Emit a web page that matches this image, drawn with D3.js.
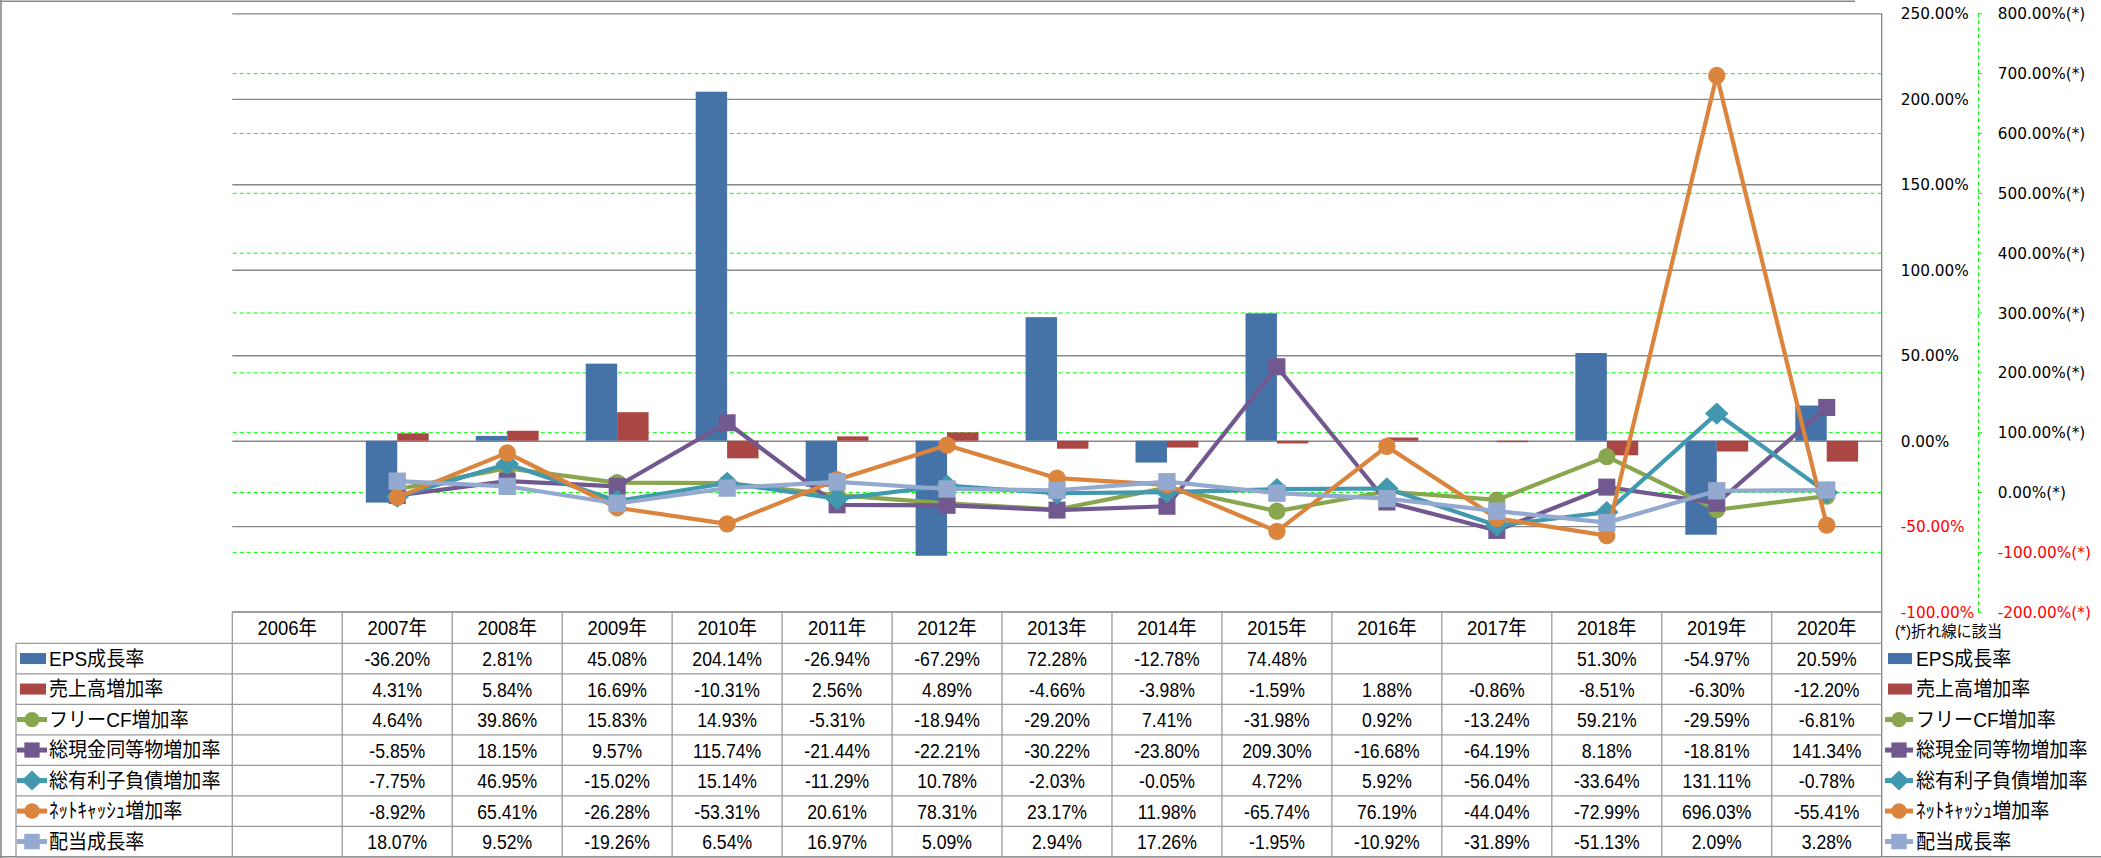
<!DOCTYPE html>
<html><head><meta charset="utf-8">
<script src="https://cdn.jsdelivr.net/npm/d3@7/dist/d3.min.js"></script>
<style>body{margin:0;background:#fff;} svg{display:block;}</style>
</head><body><svg id="c" width="2101" height="858"></svg>
<script>
// ---------- data ----------
const years = ["2006年","2007年","2008年","2009年","2010年","2011年","2012年","2013年","2014年","2015年","2016年","2017年","2018年","2019年","2020年"];
const epsGrowth      = [null,-36.20,2.81,45.08,204.14,-26.94,-67.29,72.28,-12.78,74.48,null,null,51.30,-54.97,20.59];
const salesGrowth    = [null,4.31,5.84,16.69,-10.31,2.56,4.89,-4.66,-3.98,-1.59,1.88,-0.86,-8.51,-6.30,-12.20];
const freeCfGrowth   = [null,4.64,39.86,15.83,14.93,-5.31,-18.94,-29.20,7.41,-31.98,0.92,-13.24,59.21,-29.59,-6.81];
const cashGrowth     = [null,-5.85,18.15,9.57,115.74,-21.44,-22.21,-30.22,-23.80,209.30,-16.68,-64.19,8.18,-18.81,141.34];
const debtGrowth     = [null,-7.75,46.95,-15.02,15.14,-11.29,10.78,-2.03,-0.05,4.72,5.92,-56.04,-33.64,131.11,-0.78];
const netCashGrowth  = [null,-8.92,65.41,-26.28,-53.31,20.61,78.31,23.17,11.98,-65.74,76.19,-44.04,-72.99,696.03,-55.41];
const dividendGrowth = [null,18.07,9.52,-19.26,6.54,16.97,5.09,2.94,17.26,-1.95,-10.92,-31.89,-51.13,2.09,3.28];
const seriesNames = ["EPS成長率","売上高増加率","フリーCF増加率","総現金同等物増加率","総有利子負債増加率","ﾈｯﾄｷｬｯｼｭ増加率","配当成長率"];
const leftTicks  = [-100,-50,0,50,100,150,200,250];
const rightTicks = [-200,-100,0,100,200,300,400,500,600,700,800];
const noteText = "(*)折れ線に該当";

// ---------- setup ----------
const svg = d3.select("#c");
const plotL = 232.3, plotR = 1881.7, plotT = 13.3, plotB = 611.7;
const x  = d3.scaleBand().domain(years).range([plotL, plotR]);
const yL = d3.scaleLinear().domain([-100, 250]).range([plotB, plotT]);
const yR = d3.scaleLinear().domain([-200, 800]).range([plotB, plotT]);
const axisFont = "'DejaVu Sans', Verdana, sans-serif";
const tableFont = "'Liberation Sans Narrow','Liberation Sans',Arial,'Noto Sans CJK JP',sans-serif";
const gridGray = "#878787", tblGray = "#9a9a9a";
const fmt = v => v.toFixed(2) + "%";

const diamond = { draw(ctx, size) { const h = Math.sqrt(size) / 2; ctx.moveTo(0, -h); ctx.lineTo(h * 1.05, 0); ctx.lineTo(0, h); ctx.lineTo(-h * 1.05, 0); ctx.closePath(); } };

const barSeries = [
  { name: seriesNames[0], values: epsGrowth,   color: "#4572A7" },
  { name: seriesNames[1], values: salesGrowth, color: "#AA4643" }
];
const lineSeries = [
  { name: seriesNames[2], values: freeCfGrowth,   color: "#89A54E", shape: d3.symbolCircle, size: 230 },
  { name: seriesNames[3], values: cashGrowth,     color: "#71588F", shape: d3.symbolSquare, size: 290 },
  { name: seriesNames[4], values: debtGrowth,     color: "#4198AF", shape: diamond,         size: 500 },
  { name: seriesNames[5], values: netCashGrowth,  color: "#DB843D", shape: d3.symbolCircle, size: 235 },
  { name: seriesNames[6], values: dividendGrowth, color: "#93A9CF", shape: d3.symbolSquare, size: 300 }
];

// ---------- outer frame ----------
svg.append("line").attr("x1",1).attr("x2",1).attr("y1",0).attr("y2",858).attr("stroke","#888").attr("stroke-width",1.6);
svg.append("line").attr("x1",0).attr("x2",1855).attr("y1",1.3).attr("y2",1.3).attr("stroke","#888").attr("stroke-width",1.6);
svg.append("line").attr("x1",0).attr("x2",2101).attr("y1",856.8).attr("y2",856.8).attr("stroke","#888").attr("stroke-width",1.6);

// ---------- gridlines ----------
const gl = svg.append("g").attr("transform",`translate(${plotR},0)`)
  .call(d3.axisLeft(yL).tickValues(leftTicks).tickSize(plotR - plotL).tickFormat(""));
gl.select(".domain").remove();
gl.selectAll(".tick line").attr("stroke", gridGray).attr("stroke-width", 1.3);

const gr = svg.append("g").attr("transform",`translate(${plotR},0)`)
  .call(d3.axisLeft(yR).tickValues(rightTicks.filter(v => v > -200 && v < 800)).tickSize(plotR - plotL).tickFormat(""));
gr.select(".domain").remove();
gr.selectAll(".tick line").attr("stroke", "#00FF00").attr("stroke-width", 1).attr("stroke-dasharray", "4,3");

// ---------- bars ----------
const bw = x.bandwidth() / 3.5;
const xs = d3.scaleBand().domain(barSeries.map(s => s.name)).range([0, 2 * bw]);
barSeries.forEach(s => {
  svg.append("g").selectAll("rect")
    .data(years.map((yr, i) => ({ yr, v: s.values[i] })).filter(d => d.v != null))
    .join("rect")
    .attr("x", d => x(d.yr) + (x.bandwidth() - 2 * bw) / 2 + xs(s.name))
    .attr("width", bw)
    .attr("y", d => yL(Math.max(0, d.v)))
    .attr("height", d => Math.abs(yL(d.v) - yL(0)))
    .attr("fill", s.color);
});

// plot right border (primary axis line)
svg.append("line").attr("x1",plotR).attr("x2",plotR).attr("y1",plotT).attr("y2",856.8).attr("stroke",gridGray).attr("stroke-width",1.3);

// ---------- lines ----------
const cx = yr => x(yr) + x.bandwidth() / 2;
lineSeries.forEach(s => {
  const pts = years.map((yr, i) => ({ yr, v: s.values[i] }));
  const g = svg.append("g");
  g.append("path").datum(pts)
    .attr("d", d3.line().defined(d => d.v != null).x(d => cx(d.yr)).y(d => yR(d.v)))
    .attr("fill", "none").attr("stroke", s.color).attr("stroke-width", 4.2).attr("stroke-linejoin", "round").attr("stroke-linecap","round");
  g.selectAll("path.m").data(pts.filter(d => d.v != null)).join("path").attr("class","m")
    .attr("transform", d => `translate(${cx(d.yr)},${yR(d.v)})`)
    .attr("d", d3.symbol().type(s.shape).size(s.size))
    .attr("fill", s.color);
});

// ---------- axes labels ----------
const al = svg.append("g").attr("transform",`translate(${plotR},0)`)
  .call(d3.axisRight(yL).tickValues(leftTicks).tickSize(0).tickPadding(19).tickFormat(fmt));
al.select(".domain").remove();
al.selectAll("text").attr("font-family", axisFont).attr("font-size", 15.3).attr("fill", d => d < 0 ? "#FF0000" : "#000").attr("dy", "0.36em");

const axR = 1978;
const ar = svg.append("g").attr("transform",`translate(${axR},0)`)
  .call(d3.axisRight(yR).tickValues(rightTicks).tickSize(4).tickSizeOuter(0).tickPadding(15.7).tickFormat(v => fmt(v) + "(*)"));
ar.select(".domain").attr("stroke", "#00FF00").attr("stroke-dasharray", "4,3");
ar.selectAll(".tick line").attr("stroke", "#00FF00");
ar.selectAll("text").attr("font-family", axisFont).attr("font-size", 15.3).attr("fill", d => d < 0 ? "#FF0000" : "#000").attr("dy", "0.36em");

// ---------- data table ----------
const tblLeft = 16, headTop = plotB, rowTop = 643.3, rowH = 30.5;
const allSeries = [...barSeries, ...lineSeries];
const tb = svg.append("g");
tb.append("line").attr("x1", plotL).attr("x2", plotR).attr("y1", headTop).attr("y2", headTop).attr("stroke", tblGray).attr("stroke-width", 1.3);
d3.range(allSeries.length + 1).forEach(i => {
  tb.append("line").attr("x1", tblLeft).attr("x2", plotR).attr("y1", rowTop + i * rowH).attr("y2", rowTop + i * rowH).attr("stroke", tblGray).attr("stroke-width", 1.3);
});
tb.append("line").attr("x1", tblLeft).attr("x2", tblLeft).attr("y1", rowTop).attr("y2", 856.8).attr("stroke", tblGray).attr("stroke-width", 1.3);
years.forEach(yr => {
  tb.append("line").attr("x1", x(yr)).attr("x2", x(yr)).attr("y1", headTop).attr("y2", 856.8).attr("stroke", tblGray).attr("stroke-width", 1.3);
});
// narrow text helper (horizontal condensing like the original)
function ntext(g, tx, ty, str, sx, anchor, size) {
  return g.append("text").attr("transform", `translate(${tx},${ty}) scale(${sx},1)`)
    .attr("dy", "0.36em").attr("text-anchor", anchor).attr("font-family", tableFont)
    .attr("font-size", size).attr("fill", "#000").text(str);
}
years.forEach(yr => ntext(tb, cx(yr), (headTop + rowTop) / 2, yr, 0.9, "middle", 20.5));
allSeries.forEach((s, r) => {
  const yc = rowTop + (r + 0.5) * rowH;
  years.forEach((yr, i) => { if (s.values[i] != null) ntext(tb, cx(yr), yc, fmt(s.values[i]), 0.84, "middle", 21); });
});

// legend keys (table + right side)
function legendKey(g, s, x0, x1, yc, isBar) {
  if (isBar) {
    g.append("rect").attr("x", x0 + 3).attr("y", yc - 5.5).attr("width", x1 - x0 - 4).attr("height", 11).attr("fill", s.color);
  } else {
    g.append("line").attr("x1", x0).attr("x2", x1).attr("y1", yc).attr("y2", yc).attr("stroke", s.color).attr("stroke-width", 5);
    g.append("path").attr("transform", `translate(${(x0 + x1) / 2},${yc})`).attr("d", d3.symbol().type(s.shape).size(s.size * 0.8)).attr("fill", s.color);
  }
}
allSeries.forEach((s, r) => {
  const yc = rowTop + (r + 0.5) * rowH;
  const isBar = r < barSeries.length;
  legendKey(tb, s, 17, 47, yc, isBar);
  ntext(tb, 49, yc, s.name, 0.93, "start", 20.5);
  legendKey(tb, s, 1885, 1913, yc, isBar);
  ntext(tb, 1916, yc, s.name, 0.93, "start", 20.5);
});
ntext(svg, 1895, 631.7, noteText, 0.95, "start", 16);
</script></body></html>
